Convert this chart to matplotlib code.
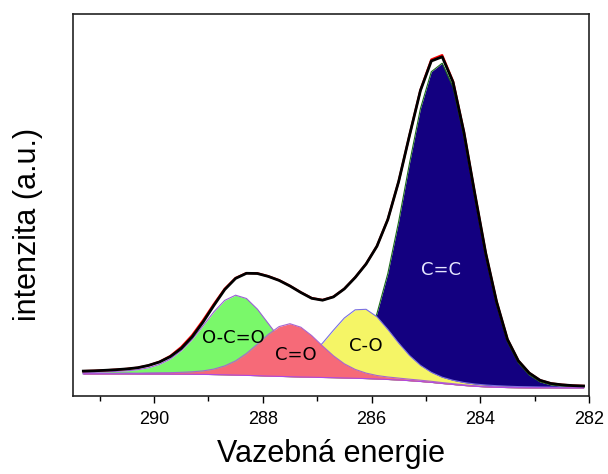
import numpy as np
import matplotlib
matplotlib.use("Agg")
import matplotlib.pyplot as plt

# C 1s spectrum: binding energy grid (eV)
energy = np.round(np.arange(291.3, 282.09, -0.2), 2)

# Shirley background
background = [22.0, 22.0, 22.0, 22.0, 22.0, 21.9, 21.9, 21.9, 21.8, 21.8, 21.7, 21.6,
              21.4, 21.2, 20.9, 20.6, 20.3, 19.9, 19.6, 19.3, 19.0, 18.8, 18.5, 18.3,
              18.0, 17.7, 17.4, 17.0, 16.5, 16.0, 15.3, 14.5, 13.6, 12.5, 11.5, 10.5,
              9.7, 9.1, 8.7, 8.4, 8.2, 8.1, 8.1, 8.1, 8.0, 8.0, 8.0]

# fitted components (intensity above background)
occo = [1.6, 1.8, 2.1, 2.6, 3.2, 4.4, 6.3, 9.7, 15.2, 23.5, 34.7, 48.4, 62.7, 74.4,
        79.9, 76.9, 66.6, 52.7, 38.7, 26.5, 17.4, 11.1, 7.1, 4.8, 3.5, 2.7, 2.2, 1.9,
        1.6, 1.4, 1.3, 1.1, 1.0, 0.9, 0.8, 0.8, 0.7, 0.6, 0.6, 0.5, 0.5, 0.5, 0.4,
        0.4, 0.4, 0.3, 0.3]
co_double = [0.5, 0.6, 0.6, 0.7, 0.8, 0.9, 1.1, 1.3, 1.5, 1.9, 2.5, 3.5, 5.5, 8.9,
             14.2, 21.9, 31.5, 41.6, 49.8, 53.0, 49.8, 41.6, 31.5, 21.9, 14.2, 8.9,
             5.5, 3.5, 2.5, 1.9, 1.5, 1.3, 1.1, 0.9, 0.8, 0.7, 0.6, 0.6, 0.5, 0.5,
             0.4, 0.4, 0.4, 0.3, 0.3, 0.3, 0.3]
co_single = [0.4, 0.4, 0.5, 0.5, 0.6, 0.6, 0.7, 0.7, 0.8, 0.9, 1.0, 1.2, 1.3, 1.6,
             1.8, 2.2, 2.8, 3.9, 5.8, 9.2, 14.8, 23.1, 34.4, 47.5, 60.0, 68.5, 69.3,
             62.2, 50.1, 36.9, 25.2, 16.2, 10.1, 6.3, 4.2, 3.0, 2.3, 1.9, 1.6, 1.4,
             1.2, 1.1, 0.9, 0.8, 0.8, 0.7, 0.6]
cc = [0.4, 0.4, 0.5, 0.5, 0.5, 0.5, 0.6, 0.6, 0.7, 0.8, 0.8, 0.9, 1.0, 1.1, 1.2, 1.3,
      1.5, 1.7, 1.9, 2.2, 2.7, 3.3, 4.5, 6.8, 11.6, 20.9, 37.8, 65.4, 106.0, 158.6,
      217.8, 272.9, 310.7, 320.3, 297.4, 249.1, 189.3, 131.0, 83.1, 46.0, 25.0, 13.0,
      6.0, 3.0, 1.8, 1.2, 0.9]

# measured spectrum
measured = [24.9, 25.2, 25.7, 26.3, 27.1, 28.3, 30.6, 34.0, 39.4, 47.5, 59.0, 73.8,
            90.5, 106.4, 117.6, 122.7, 122.5, 119.6, 115.6, 110.0, 103.5, 97.7, 95.8,
            99.1, 107.1, 118.5, 132.0, 149.8, 176.5, 214.6, 260.8, 305.5, 335.0, 339.2,
            313.8, 263.6, 202.3, 143.0, 94.3, 56.6, 35.2, 23.0, 15.7, 12.5, 11.2, 10.4,
            10.0]

# drawing order, bottom to top
labels = ['O-C=O', 'C=C', 'C-O', 'C=O']
label_pos = {'O-C=O': (288.54, 58), 'C=O': (287.39, 41), 'C-O': (286.10, 50),
             'C=C': (284.72, 126)}

base = np.array(background)
comps = {'O-C=O': np.array(occo), 'C=O': np.array(co_double),
         'C-O': np.array(co_single), 'C=C': np.array(cc)}
fit = base + sum(comps.values())

fill_colors = {'O-C=O': '#7af86a', 'C=O': '#f66a78', 'C-O': '#f5f566', 'C=C': '#130080'}
edge_colors = {'O-C=O': '#9a5fd6', 'C=O': '#a865d0', 'C-O': '#7a70e0', 'C=C': '#1a6b1a'}
text_colors = {'O-C=O': 'black', 'C=O': 'black', 'C-O': 'black', 'C=C': '#e6e6ff'}

fig = plt.figure(figsize=(6.08, 4.74), dpi=100)
ax = fig.add_axes([73/608, 1-396/474, 516/608, 382/474])

# each component is painted over the previous ones, outline included
for i, name in enumerate(labels):
    top = base + comps[name]
    ax.fill_between(energy, base, top, color=fill_colors[name], lw=0, zorder=1 + 2 * i)
    ax.plot(energy, top, color=edge_colors[name], lw=0.8, zorder=2 + 2 * i)
ax.plot(energy, base, color='#b048e0', lw=0.8, zorder=10)
ax.plot(energy, fit, color='red', lw=1.6, zorder=11)
ax.plot(energy, measured, color='black', lw=2, zorder=12)

for name in labels:
    x, y = label_pos[name]
    ax.text(x, y, name, ha='center', va='center', fontsize=13,
            color=text_colors[name], zorder=13)

ax.set_xlim(291.49, 282.0)
ax.set_ylim(0, 382)
ax.set_yticks([])
ax.set_xticks([290, 288, 286, 284, 282])
ax.set_xticks([291, 289, 287, 285, 283], minor=True)
ax.tick_params(axis='x', which='major', direction='out', length=5, width=1, pad=6,
               labelsize=13, labelfontfamily='Liberation Sans')
ax.tick_params(axis='x', which='minor', direction='out', length=3.5, width=1)
for s in ax.spines.values():
    s.set_linewidth(1.2)
    s.set_color('#222222')
ax.set_xlabel('Vazebná energie', fontsize=22, family='Liberation Sans', labelpad=8)
ax.set_ylabel('intenzita (a.u.)', fontsize=22, family='Liberation Sans')
ax.yaxis.set_label_coords(-0.058, 0.45)

fig.savefig('out.png', dpi=100)
